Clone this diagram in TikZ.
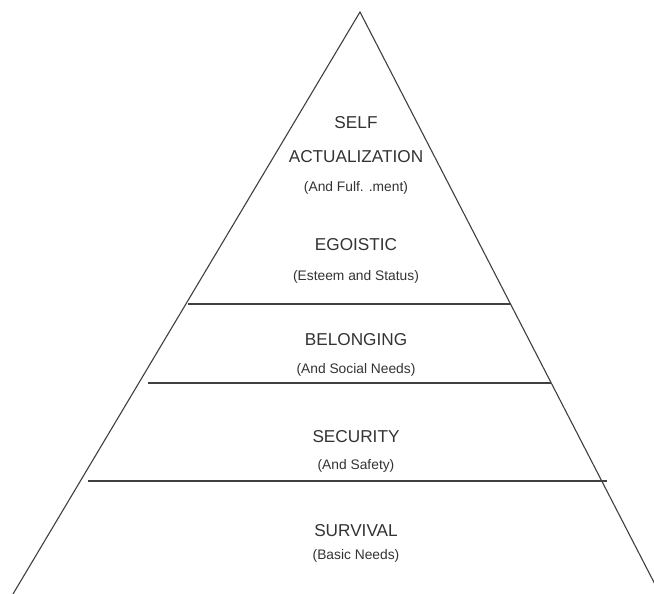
\documentclass[tikz,border=0pt]{standalone}
\usepackage{fontspec}
\setmainfont{Liberation Sans}
\begin{document}
\begin{tikzpicture}[x=1pt,y=-1pt,
  edge/.style={draw=black!75,line width=1.1pt},
  title/.style={font=\fontsize{17.2}{19}\selectfont,text=black!80,inner sep=0pt},
  sub/.style={font=\fontsize{13.8}{15}\selectfont,text=black!80,inner sep=0pt}]
\useasboundingbox[fill=white] (0,0) rectangle (654,594);
\clip (0,0) rectangle (654,594);
\coordinate (apex) at (360,12);
\coordinate (bl) at (13,594);
\coordinate (br) at (660,594);
\draw[edge] (bl) -- (apex) -- (br);
\coordinate (l1a) at (188,304); \coordinate (l1b) at (511,304);
\coordinate (l2a) at (148,383); \coordinate (l2b) at (551,383);
\coordinate (l3a) at (88,481);  \coordinate (l3b) at (607,481);
\draw[edge] (l1a) -- (l1b);
\draw[edge] (l2a) -- (l2b);
\draw[edge] (l3a) -- (l3b);
\node[title] (self) at (356,123) {SELF};
\node[title] (act) at (356,157) {ACTUALIZATION};
\node[sub] (ful) at (356,188) {(And Fulf. .ment)};
\node[title] (ego) at (356,245) {EGOISTIC};
\node[sub] (est) at (356,277) {(Esteem and Status)};
\node[title] (bel) at (356,340) {BELONGING};
\node[sub] (soc) at (356,370) {(And Social Needs)};
\node[title] (sec) at (356,437) {SECURITY};
\node[sub] (saf) at (356,466) {(And Safety)};
\node[title] (sur) at (356,531) {SURVIVAL};
\node[sub] (bas) at (356,556) {(Basic Needs)};
\end{tikzpicture}
\end{document}
